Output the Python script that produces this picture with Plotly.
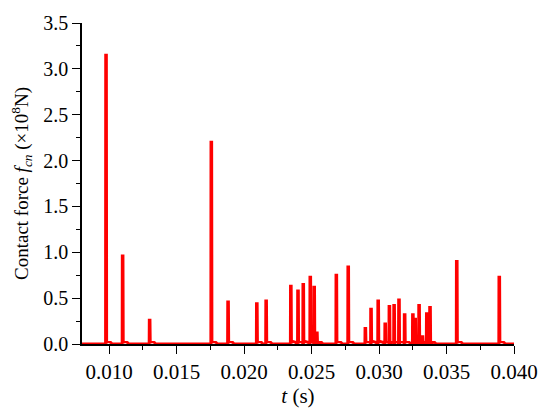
import plotly.graph_objects as go

# spike times (s) and peak contact force (x1e8 N)
spike_t = [0.00978, 0.01101, 0.01301, 0.01758, 0.01882, 0.02095, 0.02164,
           0.02347, 0.02400, 0.02439, 0.02491, 0.02520, 0.02540, 0.02684,
           0.02772, 0.02899, 0.02941, 0.02994, 0.03046, 0.03077, 0.03112,
           0.03148, 0.03190, 0.03251, 0.03268, 0.03297, 0.03322, 0.03354,
           0.03378, 0.03576, 0.03891]
spike_f = [3.15, 0.96, 0.26, 2.20, 0.46, 0.44, 0.47,
           0.63, 0.58, 0.65, 0.73, 0.62, 0.12, 0.75,
           0.84, 0.17, 0.38, 0.47, 0.22, 0.41, 0.42,
           0.48, 0.32, 0.32, 0.27, 0.42, 0.08, 0.33,
           0.40, 0.90, 0.73]
tail_f = 0.03  # small residual force after each impact

# build the pulse trace from the spike list
xs, ys = [0.008], [0]
for t, f in zip(spike_t, spike_f):
    xs += [t - 0.00004, t - 0.00003, t + 0.00003, t + 0.00005,
           t + 0.00010, t + 0.00035, t + 0.00045]
    ys += [0, f, f, 0.01, tail_f, tail_f * 0.6, 0]
xs.append(0.040)
ys.append(0)

fig = go.Figure()
fig.add_trace(go.Scatter(
    x=xs, y=ys, mode='lines',
    line=dict(color='#ff0000', width=2.8),
    showlegend=False
))

serif = 'Liberation Serif'

fig.update_layout(
    width=550, height=414,
    margin=dict(l=82, r=31, t=17, b=70),
    plot_bgcolor='white', paper_bgcolor='white',
    font=dict(family=serif, size=21, color='black'),
    xaxis=dict(
        range=[0.008, 0.040], dtick=0.005, tick0=0.010, tickformat='.3f',
        tickfont=dict(family=serif, size=21),
        showline=True, linecolor='black', linewidth=1.5,
        ticks='outside', ticklen=8, tickwidth=1.3, tickcolor='black',
        minor=dict(ticks='outside', dtick=0.0025, ticklen=4, tickwidth=1.2, tickcolor='black'),
        showgrid=False, zeroline=False,
        title=dict(text='<i>t</i> (s)', standoff=0, font=dict(family=serif, size=21)),
    ),
    yaxis=dict(
        range=[0, 3.5], dtick=0.5, tickformat='.1f', ticklabeloverflow='allow',
        tickfont=dict(family=serif, size=20),
        showline=True, linecolor='black', linewidth=1.5,
        ticks='outside', ticklen=8, tickwidth=1.3, tickcolor='black',
        minor=dict(ticks='outside', dtick=0.25, ticklen=4, tickwidth=1.2, tickcolor='black'),
        showgrid=False, zeroline=False,
        title=dict(text='Contact force <i>f</i><sub><i>cn</i></sub> (×10<sup>8</sup>N)',
                   standoff=10, font=dict(family=serif, size=19)),
    ),
)

# drop the default page margin so the figure sits at the window corner
fig.write_html("out.html", config={'displayModeBar': False},
               post_script="document.body.style.margin='0';")
